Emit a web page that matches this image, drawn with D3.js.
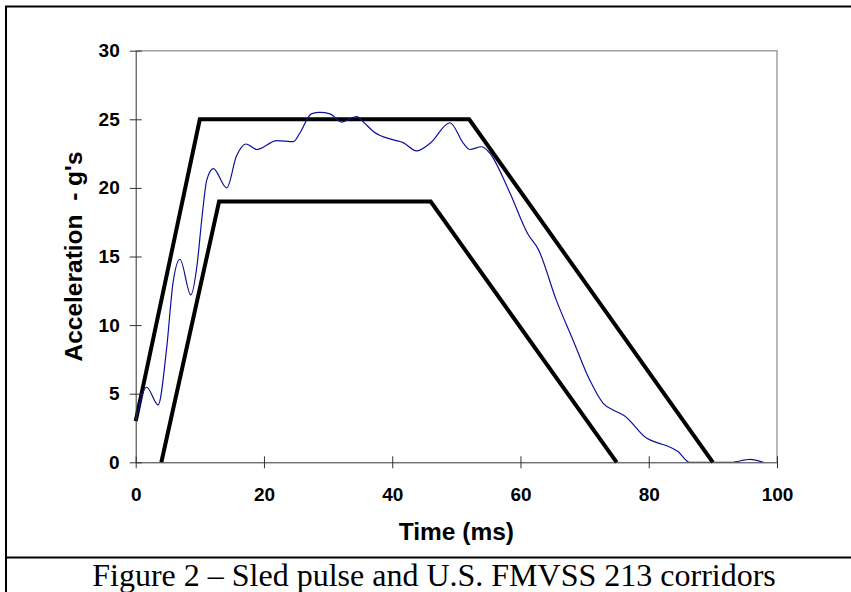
<!DOCTYPE html>
<html>
<head>
<meta charset="utf-8">
<script src="https://cdn.jsdelivr.net/npm/d3@7"></script>
<style>
  body { margin: 0; background: #fff; }
  svg { display: block; }
</style>
</head>
<body>
<svg id="chart"></svg>
<script>
// sled pulse (ms, g's)
var pulseTime = [0, 1.7, 3.5, 4.8, 5.8, 6.9, 8.6, 9.6, 10.3, 11.1, 12.1, 14.2, 15.7, 17.2, 18.9, 22.0, 24.6, 25.6, 27.4, 28.7, 30.3, 32.1, 34.5, 35.5, 37.1, 40.2, 41.7, 43.8, 45.9, 49.0, 51.1, 52.1, 53.9, 55.1, 58.2, 61.2, 62.8, 65.6, 68.2, 70.8, 72.9, 74.5, 76.2, 79.7, 81.5, 83.1, 84.5, 86.4, 89.0, 92.9, 95.8, 97.9];
var pulseAccel = [2.96, 5.47, 4.18, 8.2, 13.0, 14.8, 12.2, 14.5, 17.7, 20.6, 21.4, 20.0, 22.3, 23.2, 22.8, 23.45, 23.37, 24.0, 25.4, 25.5, 25.4, 24.8, 25.2, 24.8, 24.1, 23.5, 23.3, 22.7, 23.25, 24.75, 23.25, 22.8, 23.0, 22.6, 19.8, 16.6, 15.5, 11.8, 8.9, 6.0, 4.3, 3.8, 3.4, 1.75, 1.4, 1.15, 0.8, 0, 0, 0, 0.22, 0];

// FMVSS 213 corridors
var upperTime = [0, 10, 52, 90];
var upperAccel = [3, 25, 25, 0];
var lowerTime = [4, 13, 46, 75];
var lowerAccel = [0, 19, 19, 0];

var xTicks = [0, 20, 40, 60, 80, 100];
var yTicks = [0, 5, 10, 15, 20, 25, 30];

var width = 851, height = 592;
var margin = ({top: 50.7, right: 74, bottom: 129.7, left: 135.7});

var svg = d3.select("svg#chart")
    .attr("width", width)
    .attr("height", height)
    .attr("viewBox", [0, 0, width, height]);

var x = d3.scaleLinear()
    .domain([0, 100])
    .range([margin.left, width - margin.right]);

var y = d3.scaleLinear()
    .domain([0, 30])
    .range([height - margin.bottom, margin.top]);

// outer frame of the figure
svg.append("path")
    .attr("d", `M6,592V6.5H851M5,557.5H851`)
    .attr("fill", "none")
    .attr("stroke", "#000")
    .attr("stroke-width", 2);

// plot frame (top + right)
svg.append("path")
    .attr("d", `M${x(0)},${y(30)}H${x(100)}V${y(0)}`)
    .attr("fill", "none")
    .attr("stroke", "#a0a0a0")
    .attr("stroke-width", 1.5);

svg.append("clipPath")
    .attr("id", "plot")
    .append("rect")
    .attr("x", x(0))
    .attr("y", y(30))
    .attr("width", x(100) - x(0))
    .attr("height", y(0) - y(30));

var xAxis = g => g
    .attr("transform", `translate(0,${y(0)})`)
    .call(d3.axisBottom(x).tickValues(xTicks).tickSize(6).tickSizeOuter(0).tickPadding(19))
    .call(g => g.selectAll(".tick line").attr("y1", -6))
    .call(g => g.selectAll("path, line").attr("stroke", "#333"));

var yAxis = g => g
    .attr("transform", `translate(${x(0)},0)`)
    .call(d3.axisLeft(y).tickValues(yTicks).tickSize(6).tickSizeOuter(0).tickPadding(10))
    .call(g => g.selectAll(".tick line").attr("x1", 6))
    .call(g => g.selectAll("path, line").attr("stroke", "#333"));

var line = d3.line()
    .x(d => x(d[0]))
    .y(d => y(d[1]));

var upper = d3.zip(upperTime, upperAccel);
var lower = d3.zip(lowerTime, lowerAccel);
var pulse = d3.zip(pulseTime, pulseAccel);

svg.append("g")
    .attr("fill", "none")
    .attr("stroke", "#000")
    .attr("stroke-width", 4)
    .attr("stroke-linejoin", "miter")
    .selectAll("path")
    .data([upper, lower])
    .join("path")
    .attr("d", line);

svg.append("path")
    .datum(pulse)
    .attr("clip-path", "url(#plot)")
    .attr("fill", "none")
    .attr("stroke", "#10109a")
    .attr("stroke-width", 1.2)
    .attr("d", line.curve(d3.curveMonotoneX));

svg.append("g").call(xAxis);
svg.append("g").call(yAxis);

svg.selectAll(".tick text")
    .attr("font-family", "Liberation Sans, Arial, sans-serif")
    .attr("font-weight", "bold")
    .attr("font-size", 19)
    .attr("fill", "#000");

svg.append("text")
    .attr("x", (x(0) + x(100)) / 2)
    .attr("y", 540)
    .attr("text-anchor", "middle")
    .attr("font-family", "Liberation Sans, Arial, sans-serif")
    .attr("font-weight", "bold")
    .attr("font-size", 24.5)
    .text("Time (ms)");

svg.append("text")
    .attr("transform", `translate(82,${(y(0) + y(30)) / 2}) rotate(-90)`)
    .attr("text-anchor", "middle")
    .attr("font-family", "Liberation Sans, Arial, sans-serif")
    .attr("font-weight", "bold")
    .attr("font-size", 24.5)
    .style("white-space", "pre")
    .text("Acceleration  - g's");

svg.append("text")
    .attr("x", 434)
    .attr("y", 586)
    .attr("text-anchor", "middle")
    .attr("font-family", "Liberation Serif, Times New Roman, serif")
    .attr("font-size", 32)
    .text("Figure 2 – Sled pulse and U.S. FMVSS 213 corridors");
</script>
</body>
</html>
